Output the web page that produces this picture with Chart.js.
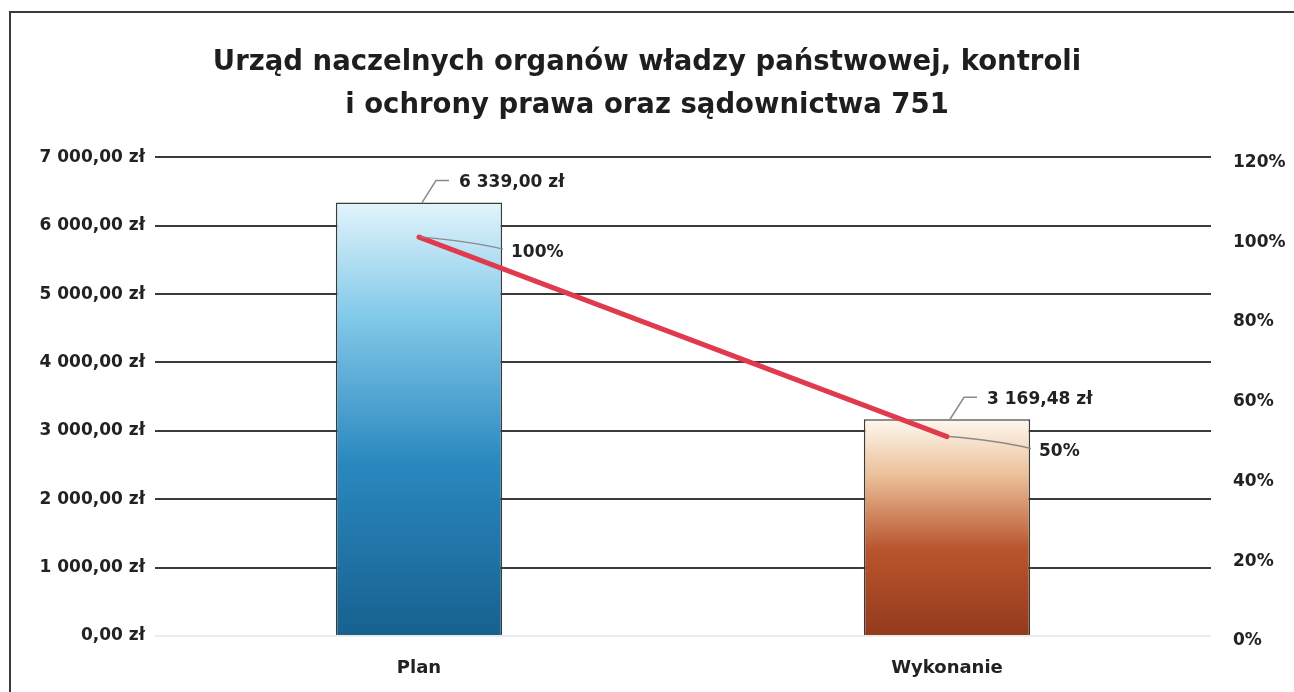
<!DOCTYPE html>
<html lang="pl">
<head>
    <meta charset="UTF-8">
    <title>Urząd naczelnych organów władzy państwowej 751</title>
    <script src="https://cdn.jsdelivr.net/npm/chart.js@4.4.0/dist/chart.umd.min.js"></script>
    <style>
        body {
            margin: 0;
            padding: 0;
            background: #fff;
        }
        .wrap {
            position: relative;
            width: 1294px;
            height: 692px;
        }
        .frame {
            position: absolute;
            left: 9px;
            top: 11px;
            width: 1285px;
            height: 681px;
            border-left: 2px solid #3a3a3a;
            border-top: 2px solid #3a3a3a;
            pointer-events: none;
        }
        canvas {
            position: absolute;
            left: 0;
            top: 0;
        }
    </style>
</head>
<body>
    <div class="wrap">
        <canvas id="chart" width="1294" height="692"></canvas>
        <div class="frame"></div>
    </div>
    <script>
        // dane z wykresu
        const categories = ['Plan', 'Wykonanie'];
        const amounts = [6339.00, 3169.48];
        const percents = [1.00, 0.50];
        const titleLines = ['Urząd naczelnych organów władzy państwowej, kontroli', 'i ochrony prawa oraz sądownictwa 751'];

        const FONT = '"DejaVu Sans"';
        const barGradients = [
            ['#17618f', '#2a88bf', '#86cbea', '#e2f4fc'],
            ['#933a1c', '#b9552d', '#ecc29c', '#fdf8ee']
        ];

        function formatZl(v) {
            const parts = v.toFixed(2).split('.');
            const intPart = parts[0].replace(/\B(?=(\d{3})+(?!\d))/g, ' ');
            return intPart + ',' + parts[1] + ' zł';
        }

        function formatPct(v) {
            return Math.round(v * 100) + '%';
        }

        function barColor(context) {
            const chart = context.chart;
            const area = chart.chartArea;
            if (!area) return null;
            const stops = barGradients[context.dataIndex];
            const y = chart.scales.y;
            const g = chart.ctx.createLinearGradient(0, y.getPixelForValue(0), 0, y.getPixelForValue(amounts[context.dataIndex]));
            g.addColorStop(0, stops[0]);
            g.addColorStop(0.4, stops[1]);
            g.addColorStop(0.75, stops[2]);
            g.addColorStop(1, stops[3]);
            return g;
        }

        // etykiety danych z liniami odniesienia
        const labelPlugin = {
            id: 'leaderLabels',
            afterDatasetsDraw(chart) {
                const ctx = chart.ctx;
                ctx.save();
                ctx.font = 'bold 17px ' + FONT;
                ctx.fillStyle = '#222';
                ctx.textBaseline = 'middle';
                ctx.textAlign = 'left';
                ctx.strokeStyle = '#8a8a8a';
                ctx.lineWidth = 1.5;

                // słupki (dataset 1)
                chart.getDatasetMeta(1).data.forEach((bar, i) => {
                    const x = bar.x, top = bar.y;
                    ctx.beginPath();
                    ctx.moveTo(x + 3, top);
                    ctx.lineTo(x + 17, top - 22);
                    ctx.lineTo(x + 30, top - 22);
                    ctx.stroke();
                    ctx.fillText(formatZl(amounts[i]), x + 40, top - 20);
                });

                // linia procentowa (dataset 0)
                chart.getDatasetMeta(0).data.forEach((pt, i) => {
                    const x = pt.x, y = pt.y;
                    ctx.beginPath();
                    ctx.moveTo(x + 2, y);
                    ctx.quadraticCurveTo(x + 50, y + 4, x + 84, y + 12);
                    ctx.stroke();
                    ctx.fillText(formatPct(percents[i]), x + 92, y + 15);
                });
                ctx.restore();
            }
        };

        new Chart(document.getElementById('chart'), {
            type: 'bar',
            data: {
                labels: categories,
                datasets: [{
                    type: 'line',
                    label: 'Procent',
                    data: percents,
                    yAxisID: 'y1',
                    borderColor: '#e03a4c',
                    borderWidth: 5,
                    pointRadius: 0,
                    borderCapStyle: 'round',
                    order: 0
                }, {
                    label: 'Kwota',
                    data: amounts,
                    yAxisID: 'y',
                    backgroundColor: barColor,
                    borderColor: '#3a3a3a',
                    borderWidth: 1.5,
                    categoryPercentage: 1,
                    barPercentage: 0.315,
                    order: 1
                }]
            },
            options: {
                responsive: false,
                animation: false,
                layout: { padding: 0 },
                plugins: {
                    legend: { display: false },
                    tooltip: { enabled: false },
                    title: {
                        display: true,
                        text: titleLines,
                        color: '#1e1e1e',
                        font: { family: FONT, size: 27.5, weight: 'bold', lineHeight: 1.57 },
                        padding: { top: 41, bottom: 30 }
                    }
                },
                scales: {
                    x: {
                        grid: { display: false },
                        border: { display: false },
                        ticks: {
                            color: '#222',
                            font: { family: FONT, size: 18, weight: 'bold' },
                            padding: 14
                        },
                        afterFit(scale) { scale.height = 56; }
                    },
                    y: {
                        position: 'left',
                        min: 0,
                        max: 7000,
                        ticks: {
                            stepSize: 1000,
                            color: '#222',
                            font: { family: FONT, size: 17, weight: 'bold' },
                            padding: 10,
                            callback: v => formatZl(v)
                        },
                        grid: {
                            drawTicks: false,
                            lineWidth: 2,
                            color: c => (c.tick && c.tick.value === 0) ? '#ececec' : '#3a3a3a'
                        },
                        border: { display: false },
                        afterFit(scale) { scale.width = 155; }
                    },
                    y1: {
                        position: 'right',
                        min: 0,
                        max: 1.2,
                        ticks: {
                            stepSize: 0.2,
                            color: '#222',
                            font: { family: FONT, size: 17, weight: 'bold' },
                            padding: 22,
                            labelOffset: 5,
                            callback: v => formatPct(v)
                        },
                        grid: { drawOnChartArea: false, drawTicks: false },
                        border: { display: false },
                        afterFit(scale) { scale.width = 83; }
                    }
                }
            },
            plugins: [labelPlugin]
        });
    </script>
</body>
</html>
